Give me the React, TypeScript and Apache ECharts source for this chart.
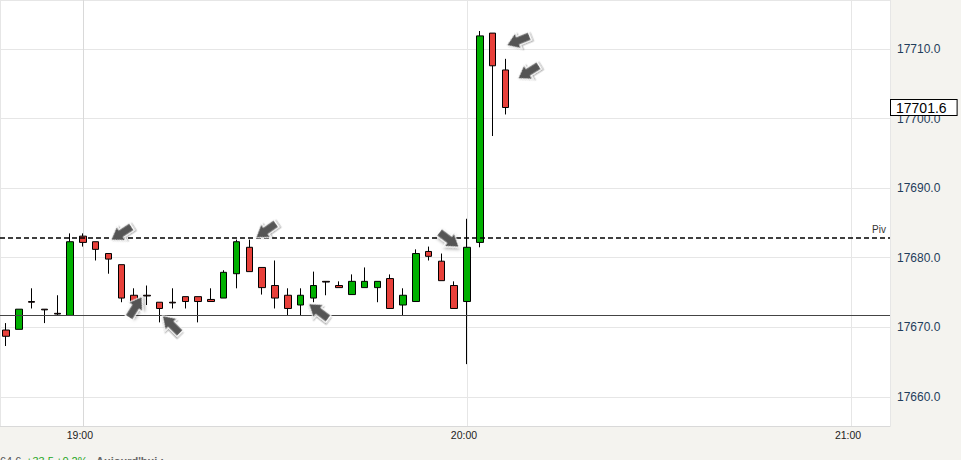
import React, { useEffect, useRef } from "react";
import * as echarts from "echarts";

// 2-minute candles
const times = [
  "18:48", "18:50", "18:52", "18:54", "18:56", "18:58", "19:00", "19:02", "19:04", "19:06",
  "19:08", "19:10", "19:12", "19:14", "19:16", "19:18", "19:20", "19:22", "19:24", "19:26",
  "19:28", "19:30", "19:32", "19:34", "19:36", "19:38", "19:40", "19:42", "19:44", "19:46",
  "19:48", "19:50", "19:52", "19:54", "19:56", "19:58", "20:00", "20:02", "20:04", "20:06",
];
const opens = [
  17669.6, 17669.7, 17673.7, 17672.6, 17672.0, 17671.7, 17683.1, 17682.3, 17680.6, 17679.0,
  17674.6, 17674.6, 17673.6, 17673.6, 17674.4, 17674.4, 17674.0, 17674.2, 17677.7, 17681.5,
  17678.6, 17676.0, 17674.6, 17673.2, 17674.2, 17676.6, 17676.0, 17674.7, 17675.7, 17675.7,
  17677.0, 17673.2, 17673.7, 17680.9, 17679.5, 17676.0, 17673.7, 17682.2, 17712.3, 17707.0,
];
const closes = [
  17668.7, 17672.6, 17673.6, 17672.5, 17671.9, 17682.3, 17682.2, 17681.2, 17679.8, 17674.2,
  17673.7, 17674.5, 17672.7, 17673.5, 17673.7, 17673.7, 17673.7, 17677.9, 17682.3, 17678.0,
  17675.7, 17674.2, 17672.7, 17674.6, 17676.0, 17676.5, 17675.7, 17676.6, 17676.6, 17676.6,
  17672.7, 17674.6, 17680.6, 17680.2, 17676.7, 17672.7, 17681.5, 17711.9, 17707.6, 17701.6,
];
const lows = [
  17667.3, 17669.7, 17672.7, 17670.6, 17671.7, 17671.7, 17681.6, 17679.6, 17677.7, 17673.6,
  17671.4, 17673.2, 17670.7, 17672.7, 17672.7, 17670.7, 17673.7, 17674.2, 17675.6, 17678.0,
  17674.7, 17672.7, 17671.7, 17671.7, 17673.6, 17674.6, 17675.7, 17674.7, 17675.7, 17673.6,
  17672.7, 17671.7, 17673.7, 17679.6, 17676.7, 17672.7, 17664.7, 17681.5, 17697.5, 17700.6,
];
const highs = [
  17670.6, 17672.6, 17675.6, 17672.6, 17674.6, 17683.5, 17683.5, 17682.3, 17680.6, 17679.0,
  17675.6, 17676.0, 17673.6, 17675.6, 17674.4, 17674.4, 17675.6, 17678.2, 17682.6, 17682.6,
  17678.6, 17679.6, 17675.6, 17675.6, 17678.0, 17676.6, 17676.6, 17677.6, 17678.6, 17676.6,
  17677.6, 17675.6, 17681.2, 17681.6, 17680.6, 17676.6, 17685.6, 17712.6, 17712.3, 17708.6,
];

const pivotLevel = 17682.8;
const supportLevel = 17671.7;
const lastPrice = 17701.6;

// annotation arrows: [slot (2-min units from 19:00), price, direction in degrees]
const arrowMarks: [number, number, number][] = [
  [3.0, 17683.5, 213],
  [4.1, 17672.9, 58],
  [6.9, 17670.4, 135],
  [14.3, 17683.9, 215],
  [18.4, 17672.3, 143],
  [28.6, 17682.6, 323],
  [34.0, 17711.2, 202],
  [34.8, 17706.7, 212],
];

const footerParts = [
  { text: "64.6", color: "#555555", bold: false },
  { text: "+33.5", color: "#1ea51e", bold: false },
  { text: "+0.2%", color: "#1ea51e", bold: false },
  { text: "Aujourd'hui :", color: "#666666", bold: true },
];

const toSlot = (t: string) => {
  const [h, m] = t.split(":").map(Number);
  return (h * 60 + m - 19 * 60) / 2;
};
const slotLabel = (v: number) => {
  const mins = 19 * 60 + Math.round(v * 2);
  const h = Math.floor(mins / 60);
  const m = mins % 60;
  return `${h}:${m < 10 ? "0" + m : m}`;
};

const FONT = '"Liberation Sans", Arial, sans-serif';
const ARROW = "path://M0,5L12,5L12,10L24,0L12,-10L12,-5L0,-5Z";

export default function App() {
  const ref = useRef<HTMLDivElement>(null);
  useEffect(() => {
    if (!ref.current) return;
    const chart = echarts.init(ref.current, undefined, { renderer: "svg" });
    const rows = times.map((t, i) => [toSlot(t), opens[i], closes[i], lows[i], highs[i]]);
    const footerX = [0, 26, 56, 96];
    chart.setOption({
      animation: false,
      backgroundColor: "#f4f3ef",
      grid: {
        left: -1,
        top: -1,
        right: 71,
        bottom: 34,
        show: true,
        backgroundColor: "#ffffff",
        borderWidth: 0,
      },
      xAxis: {
        type: "value",
        min: -6.476,
        max: 63.04,
        minInterval: 30,
        maxInterval: 30,
        axisLine: { show: true, lineStyle: { color: "#d9d9d9", width: 1 } },
        axisTick: { show: false },
        splitLine: { show: true, lineStyle: { color: "#e6e6e6", width: 1 } },
        axisLabel: {
          show: true,
          showMinLabel: false,
          showMaxLabel: false,
          formatter: (v: number) => slotLabel(v),
          color: "#222222",
          fontSize: 10.5,
          fontFamily: FONT,
          margin: 3,
          padding: [0, 6, 0, 0],
        },
      },
      yAxis: {
        type: "value",
        position: "right",
        min: 17655.8,
        max: 17717.06,
        minInterval: 10,
        maxInterval: 10,
        scale: true,
        axisLine: { show: true, lineStyle: { color: "#d9d9d9", width: 1 } },
        axisTick: { show: false },
        splitLine: { show: true, lineStyle: { color: "#e6e6e6", width: 1 } },
        axisLabel: {
          show: true,
          showMinLabel: false,
          showMaxLabel: false,
          formatter: (v: number) => v.toFixed(1),
          color: "#1f3d5b",
          fontSize: 12,
          fontFamily: FONT,
          margin: 7,
        },
      },
      series: [
        {
          type: "candlestick",
          data: rows,
          encode: { x: 0, y: [1, 2, 3, 4] },
          barWidth: 7,
          clip: false,
          itemStyle: {
            color: "#00b000",
            color0: "#e8403a",
            borderColor: "#000000",
            borderColor0: "#000000",
            borderColorDoji: "#000000",
            borderWidth: 1,
          },
          markLine: {
            silent: true,
            symbol: ["none", "none"],
            animation: false,
            data: [
              {
                yAxis: supportLevel,
                lineStyle: { color: "#444444", type: "solid", width: 1 },
                label: { show: false },
              },
              {
                yAxis: pivotLevel,
                lineStyle: { color: "#000000", type: [5, 3], width: 1.6 },
                label: {
                  show: true,
                  position: "insideEndTop",
                  formatter: "Piv",
                  color: "#333333",
                  fontSize: 10,
                  fontFamily: FONT,
                  distance: 4,
                },
              },
              {
                yAxis: lastPrice,
                lineStyle: { color: "rgba(0,0,0,0)", width: 0 },
                label: {
                  show: true,
                  position: "end",
                  formatter: lastPrice.toFixed(1),
                  color: "#000000",
                  fontSize: 14,
                  fontFamily: FONT,
                  backgroundColor: "#ffffff",
                  borderColor: "#000000",
                  borderWidth: 1,
                  padding: [1, 10, 0, 5],
                  distance: 1,
                },
              },
            ],
          },
          markPoint: {
            silent: true,
            animation: false,
            data: arrowMarks.map(([x, y, a]) => ({
              coord: [x, y],
              symbol: ARROW,
              symbolSize: [25, 17],
              symbolRotate: a,
              label: { show: false },
              itemStyle: {
                color: "#555555",
                borderColor: "#ffffff",
                borderWidth: 1,
                shadowColor: "rgba(0,0,0,0.3)",
                shadowBlur: 3,
                shadowOffsetX: 1.5,
                shadowOffsetY: 1.5,
              },
            })),
          },
        },
      ],
      graphic: footerParts.map((p, i) => ({
        type: "text",
        x: footerX[i],
        y: 455,
        silent: true,
        style: {
          text: p.text,
          fill: p.color,
          fontSize: 11,
          fontWeight: p.bold ? "bold" : "normal",
          fontFamily: FONT,
          verticalAlign: "top",
        },
      })),
    });
    return () => chart.dispose();
  }, []);
  return (
    <div
      ref={ref}
      style={{ position: "fixed", left: 0, top: 0, width: 961, height: 460 }}
    />
  );
}
